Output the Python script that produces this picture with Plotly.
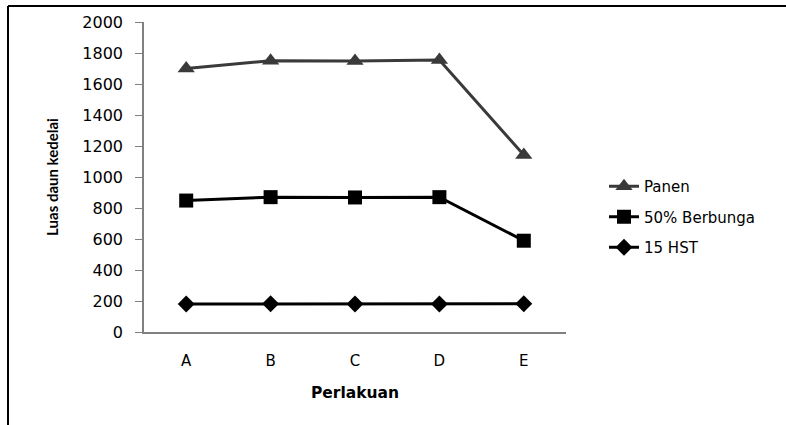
import plotly.graph_objects as go

categories = ["A", "B", "C", "D", "E"]
panen = [1700, 1750, 1748, 1755, 1142]
berbunga = [848, 870, 868, 870, 589]
hst15 = [181, 182, 181, 181, 182]
y_ticks = [0, 200, 400, 600, 800, 1000, 1200, 1400, 1600, 1800, 2000]

W, H = 786, 425
L, R, T, B = 144, 220, 22, 93
pw, ph = W - L - R, H - T - B

def px_x(x):
    return (x - L) / pw

def px_y(y):
    return (H - B - y) / ph

fig = go.Figure()
fig.add_trace(go.Scatter(x=categories, y=panen, name="Panen", mode="lines+markers",
                         legendgroup="g1",
                         line=dict(color="#3a3a3a", width=3),
                         marker=dict(symbol="triangle-up", size=15, color="#3a3a3a")))
fig.add_trace(go.Scatter(x=categories, y=berbunga, name="50% Berbunga", mode="lines+markers",
                         legendgroup="g2",
                         line=dict(color="#000000", width=3),
                         marker=dict(symbol="square", size=14, color="#000000")))
fig.add_trace(go.Scatter(x=categories, y=hst15, name="15 HST", mode="lines+markers",
                         legendgroup="g3",
                         line=dict(color="#000000", width=3),
                         marker=dict(symbol="diamond", size=13, color="#000000")))

fig.update_layout(
    width=W, height=H,
    margin=dict(l=L, r=R, t=T, b=B, pad=0),
    paper_bgcolor="white", plot_bgcolor="white",
    showlegend=True,
    legend=dict(x=px_x(604), y=px_y(170), xanchor="left", yanchor="top",
                font=dict(family="DejaVu Sans", size=15, color="#000000"),
                tracegroupgap=8, itemwidth=30, bgcolor="rgba(0,0,0,0)"),
    xaxis=dict(type="category", range=[-0.5, 4.5], showline=True, linecolor="#808080",
               linewidth=1.5, ticks="", showgrid=False, zeroline=False,
               tickfont=dict(family="DejaVu Sans", size=15, color="#000000"),
               ticklabelstandoff=14,
               title=dict(text="Perlakuan", standoff=18,
                          font=dict(family="DejaVu Sans", size=15.5, color="#000000", weight="bold"))),
    yaxis=dict(range=[0, 2000], tickvals=y_ticks, showline=True, linecolor="#808080",
               linewidth=1.5, ticks="outside", ticklen=7, tickcolor="#808080",
               showgrid=False, zeroline=False,
               tickfont=dict(family="DejaVu Sans", size=16, color="#000000"),
               ticklabelstandoff=9,
               title=dict(text="Luas daun kedelai", standoff=20,
                          font=dict(family="Lato", size=15, color="#000000", weight="bold"))),
    shapes=[
        dict(type="line", xref="paper", yref="paper", x0=px_x(8), x1=px_x(786),
             y0=px_y(6), y1=px_y(6), line=dict(color="black", width=2)),
        dict(type="line", xref="paper", yref="paper", x0=px_x(8), x1=px_x(8),
             y0=px_y(6), y1=px_y(425), line=dict(color="black", width=2)),
    ],
)

fig.write_html("out.html", config={"displayModeBar": False},
               post_script="document.body.style.margin='0';")
